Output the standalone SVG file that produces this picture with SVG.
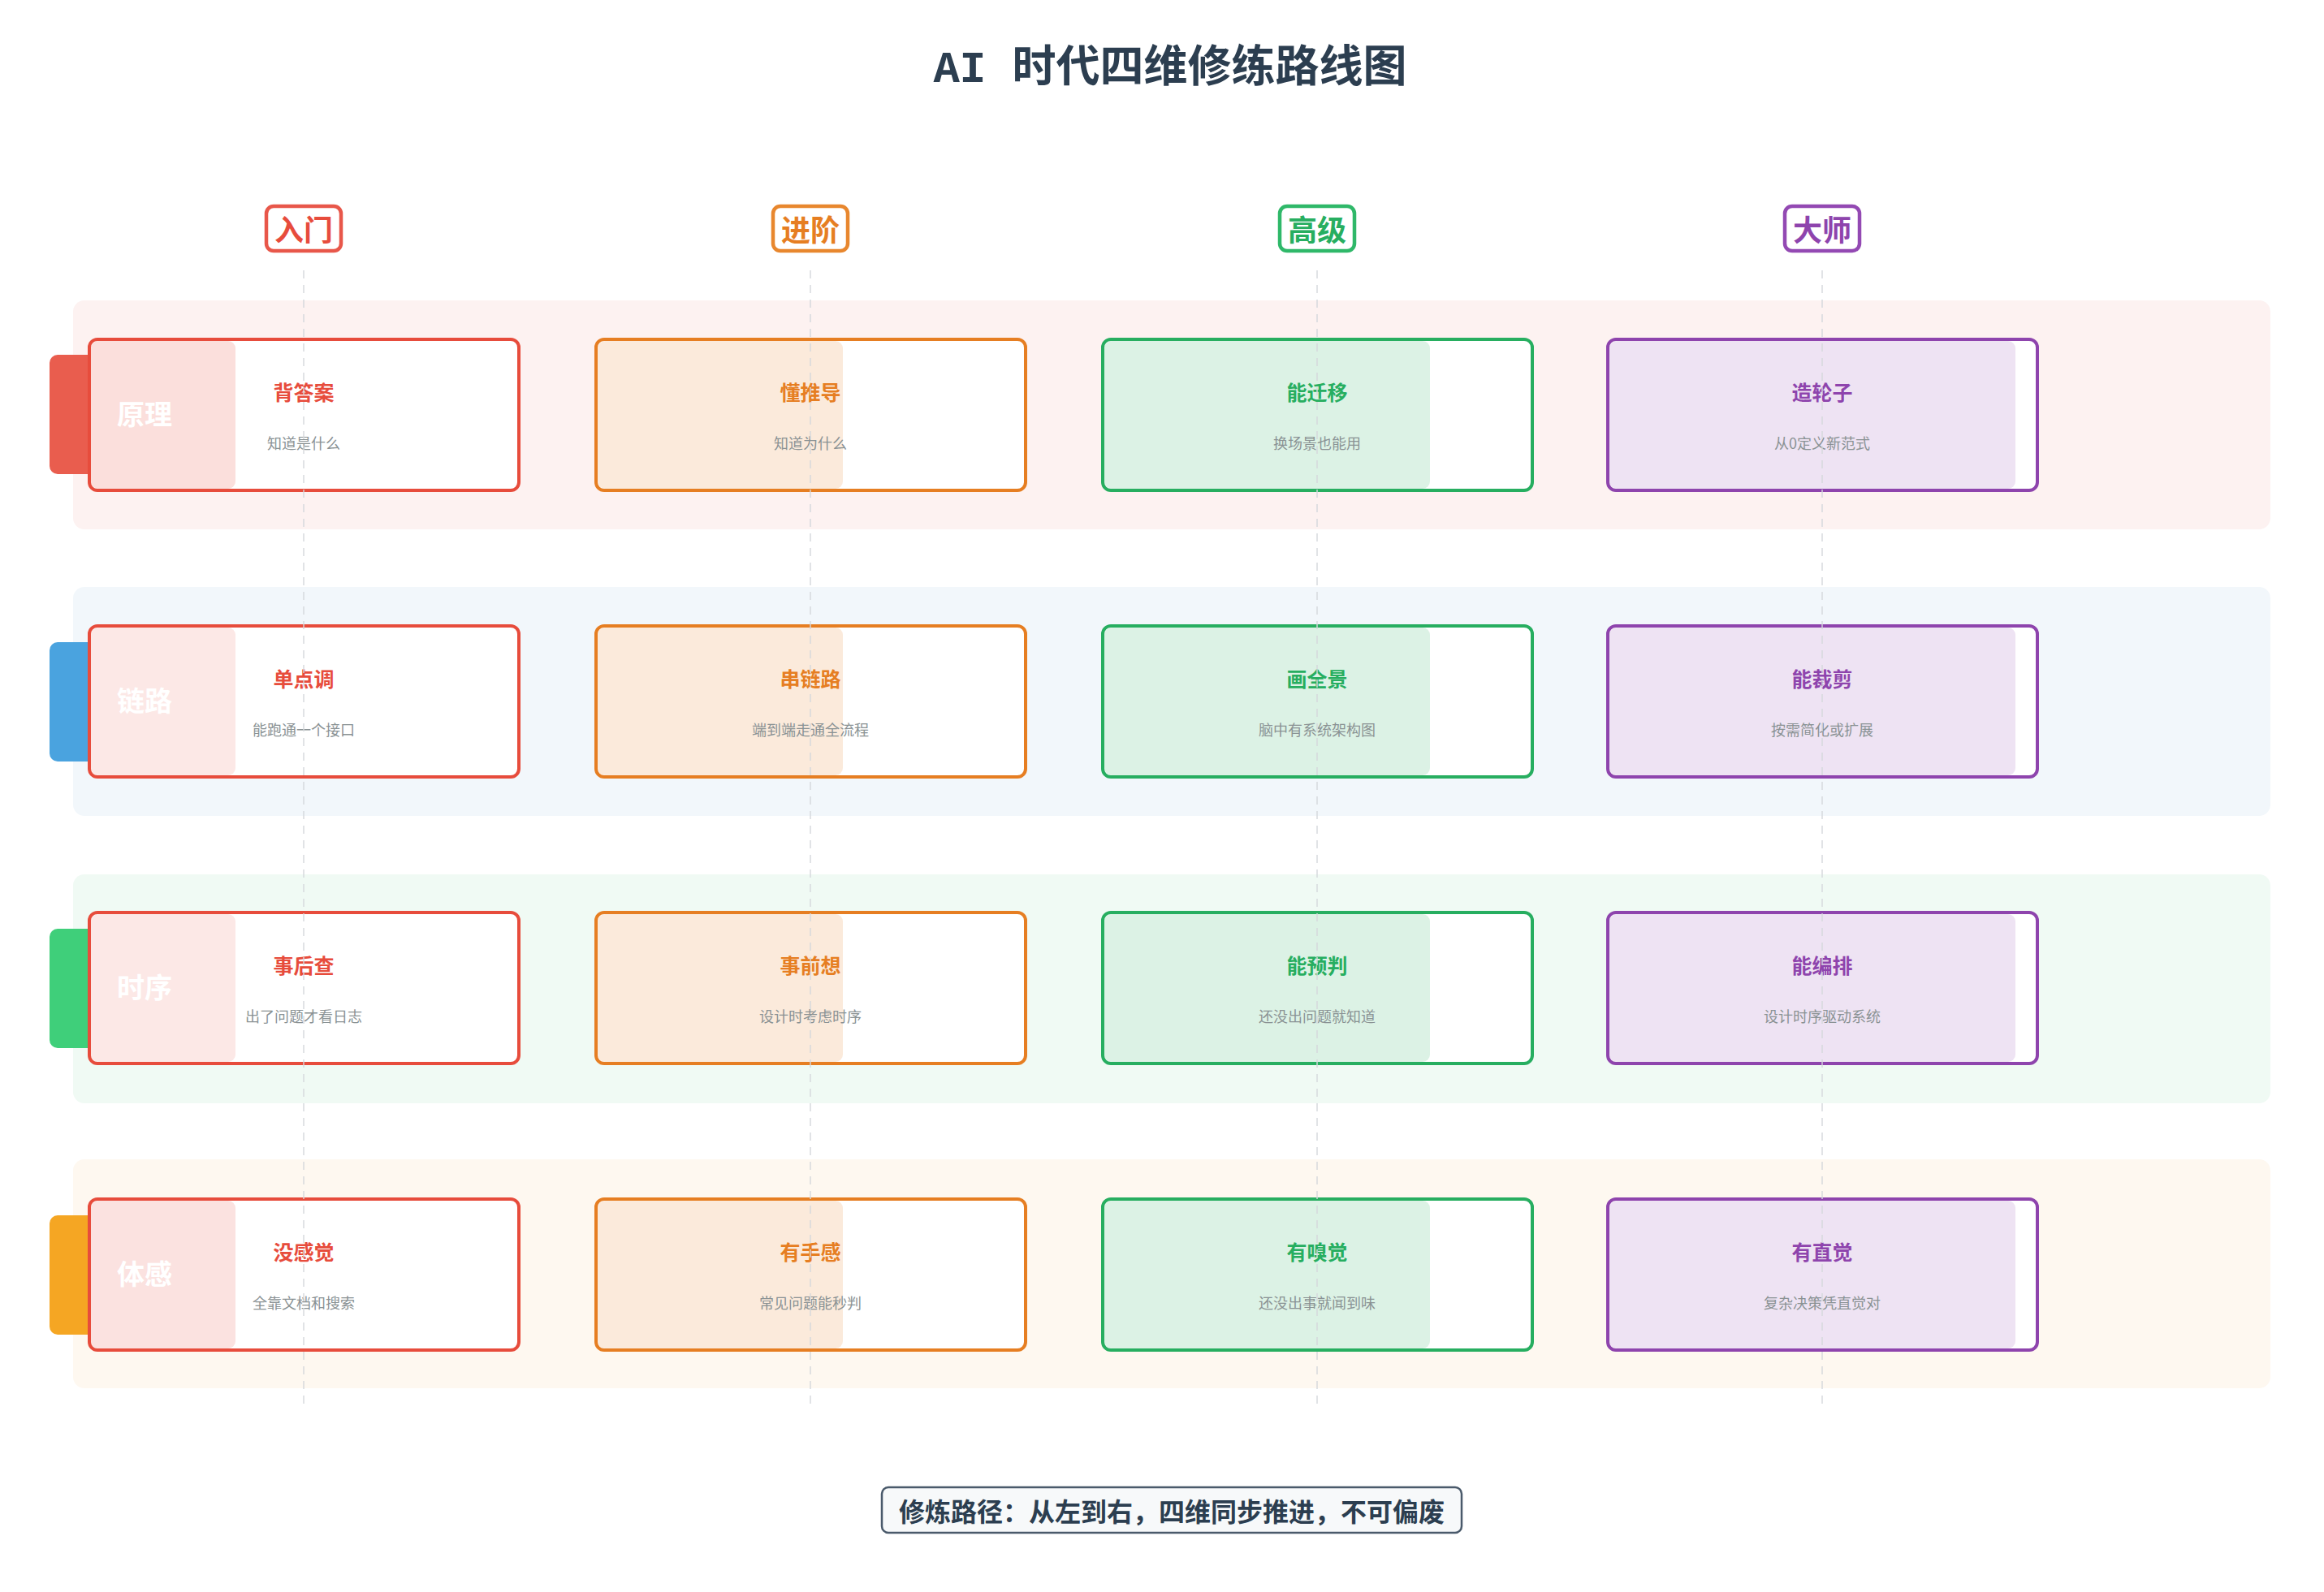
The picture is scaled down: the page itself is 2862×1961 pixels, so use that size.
<svg xmlns="http://www.w3.org/2000/svg" width="2862" height="1961" viewBox="0 0 2862 1961">
<style>
text{font-family:"Noto Sans CJK SC","Noto Sans",sans-serif;text-anchor:middle;dominant-baseline:central}
.title{font-family:"Liberation Mono","Noto Sans CJK SC",monospace;font-size:54px;font-weight:700;fill:#2c3e50}
.badge{fill:#fff;stroke-width:4.5}
.bt{font-size:36px;font-weight:700}
.band{}
.card{fill:#fff;stroke-width:4}
.ct{font-size:25px;font-weight:700}
.cs{font-size:18px;fill:#8a9294}
.rl{font-size:34px;font-weight:700;fill:#fff}
.guide{stroke:#d5d8dc;stroke-width:2;stroke-dasharray:10 8;opacity:.7}
</style>
<rect width="2862" height="1961" fill="#fff"/>
<text class="title" x="1441" y="86">AI 时代四维修练路线图</text>

<g id="bands">
<rect x="90" y="370" width="2706" height="282" rx="14" fill="#fdf2f1"/>
<rect x="90" y="723" width="2706" height="282" rx="14" fill="#f2f7fb"/>
<rect x="90" y="1077" width="2706" height="282" rx="14" fill="#f0faf4"/>
<rect x="90" y="1428" width="2706" height="282" rx="14" fill="#fef8f0"/>
</g>

<g id="badges">
<g id="b1"><rect class="badge" x="328" y="254" width="92" height="55" rx="9" stroke="#e8574a"/><text class="bt" x="374" y="281" fill="#e74c3c">入门</text></g>
<g id="b2"><rect class="badge" x="952" y="254" width="92" height="55" rx="9" stroke="#e8872e"/><text class="bt" x="998" y="281" fill="#e67e22">进阶</text></g>
<g id="b3"><rect class="badge" x="1576" y="254" width="92" height="55" rx="9" stroke="#2fb869"/><text class="bt" x="1622" y="281" fill="#27ae60">高级</text></g>
<g id="b4"><rect class="badge" x="2198" y="254" width="92" height="55" rx="9" stroke="#9349b3"/><text class="bt" x="2244" y="281" fill="#8e44ad">大师</text></g>
</g>

<g id="rows">
<g id="row1">
<rect x="61" y="437" width="70" height="147" rx="10" fill="#e95d4e"/>
<g id="c11"><rect class="card" x="110" y="418" width="529" height="186" rx="10" stroke="#e74c3c"/><rect x="112" y="420" width="178" height="182" rx="9" fill="#e74c3c" opacity=".18"/><text class="ct" x="374" y="482" fill="#e74c3c">背答案</text><text class="cs" x="374" y="545">知道是什么</text></g>
<g id="c12"><rect class="card" x="734" y="418" width="529" height="186" rx="10" stroke="#e67e22"/><rect x="736" y="420" width="302" height="182" rx="9" fill="#e67e22" opacity=".16"/><text class="ct" x="998" y="482" fill="#e67e22">懂推导</text><text class="cs" x="998" y="545">知道为什么</text></g>
<g id="c13"><rect class="card" x="1358" y="418" width="529" height="186" rx="10" stroke="#27ae60"/><rect x="1360" y="420" width="401" height="182" rx="9" fill="#27ae60" opacity=".16"/><text class="ct" x="1622" y="482" fill="#27ae60">能迁移</text><text class="cs" x="1622" y="545">换场景也能用</text></g>
<g id="c14"><rect class="card" x="1980" y="418" width="529" height="186" rx="10" stroke="#8e44ad"/><rect x="1982" y="420" width="500" height="182" rx="9" fill="#8e44ad" opacity=".15"/><text class="ct" x="2244" y="482" fill="#8e44ad">造轮子</text><text class="cs" x="2244" y="545">从0定义新范式</text></g>
<text class="rl" x="178" y="508">原理</text>
</g>

<g id="row2">
<rect x="61" y="791" width="70" height="147" rx="10" fill="#4aa3df"/>
<g id="c21"><rect class="card" x="110" y="771" width="529" height="186" rx="10" stroke="#e74c3c"/><rect x="112" y="773" width="178" height="182" rx="9" fill="#e74c3c" opacity=".13"/><text class="ct" x="374" y="835" fill="#e74c3c">单点调</text><text class="cs" x="374" y="898">能跑通一个接口</text></g>
<g id="c22"><rect class="card" x="734" y="771" width="529" height="186" rx="10" stroke="#e67e22"/><rect x="736" y="773" width="302" height="182" rx="9" fill="#e67e22" opacity=".16"/><text class="ct" x="998" y="835" fill="#e67e22">串链路</text><text class="cs" x="998" y="898">端到端走通全流程</text></g>
<g id="c23"><rect class="card" x="1358" y="771" width="529" height="186" rx="10" stroke="#27ae60"/><rect x="1360" y="773" width="401" height="182" rx="9" fill="#27ae60" opacity=".16"/><text class="ct" x="1622" y="835" fill="#27ae60">画全景</text><text class="cs" x="1622" y="898">脑中有系统架构图</text></g>
<g id="c24"><rect class="card" x="1980" y="771" width="529" height="186" rx="10" stroke="#8e44ad"/><rect x="1982" y="773" width="500" height="182" rx="9" fill="#8e44ad" opacity=".15"/><text class="ct" x="2244" y="835" fill="#8e44ad">能裁剪</text><text class="cs" x="2244" y="898">按需简化或扩展</text></g>
<text class="rl" x="178" y="861">链路</text>
</g>

<g id="row3">
<rect x="61" y="1144" width="70" height="147" rx="10" fill="#3fcf7a"/>
<g id="c31"><rect class="card" x="110" y="1124" width="529" height="186" rx="10" stroke="#e74c3c"/><rect x="112" y="1126" width="178" height="182" rx="9" fill="#e74c3c" opacity=".13"/><text class="ct" x="374" y="1188" fill="#e74c3c">事后查</text><text class="cs" x="374" y="1251">出了问题才看日志</text></g>
<g id="c32"><rect class="card" x="734" y="1124" width="529" height="186" rx="10" stroke="#e67e22"/><rect x="736" y="1126" width="302" height="182" rx="9" fill="#e67e22" opacity=".16"/><text class="ct" x="998" y="1188" fill="#e67e22">事前想</text><text class="cs" x="998" y="1251">设计时考虑时序</text></g>
<g id="c33"><rect class="card" x="1358" y="1124" width="529" height="186" rx="10" stroke="#27ae60"/><rect x="1360" y="1126" width="401" height="182" rx="9" fill="#27ae60" opacity=".16"/><text class="ct" x="1622" y="1188" fill="#27ae60">能预判</text><text class="cs" x="1622" y="1251">还没出问题就知道</text></g>
<g id="c34"><rect class="card" x="1980" y="1124" width="529" height="186" rx="10" stroke="#8e44ad"/><rect x="1982" y="1126" width="500" height="182" rx="9" fill="#8e44ad" opacity=".15"/><text class="ct" x="2244" y="1188" fill="#8e44ad">能编排</text><text class="cs" x="2244" y="1251">设计时序驱动系统</text></g>
<text class="rl" x="178" y="1214">时序</text>
</g>

<g id="row4">
<rect x="61" y="1497" width="70" height="147" rx="10" fill="#f5a623"/>
<g id="c41"><rect class="card" x="110" y="1477" width="529" height="186" rx="10" stroke="#e74c3c"/><rect x="112" y="1479" width="178" height="182" rx="9" fill="#e74c3c" opacity=".16"/><text class="ct" x="374" y="1541" fill="#e74c3c">没感觉</text><text class="cs" x="374" y="1604">全靠文档和搜索</text></g>
<g id="c42"><rect class="card" x="734" y="1477" width="529" height="186" rx="10" stroke="#e67e22"/><rect x="736" y="1479" width="302" height="182" rx="9" fill="#e67e22" opacity=".16"/><text class="ct" x="998" y="1541" fill="#e67e22">有手感</text><text class="cs" x="998" y="1604">常见问题能秒判</text></g>
<g id="c43"><rect class="card" x="1358" y="1477" width="529" height="186" rx="10" stroke="#27ae60"/><rect x="1360" y="1479" width="401" height="182" rx="9" fill="#27ae60" opacity=".16"/><text class="ct" x="1622" y="1541" fill="#27ae60">有嗅觉</text><text class="cs" x="1622" y="1604">还没出事就闻到味</text></g>
<g id="c44"><rect class="card" x="1980" y="1477" width="529" height="186" rx="10" stroke="#8e44ad"/><rect x="1982" y="1479" width="500" height="182" rx="9" fill="#8e44ad" opacity=".15"/><text class="ct" x="2244" y="1541" fill="#8e44ad">有直觉</text><text class="cs" x="2244" y="1604">复杂决策凭直觉对</text></g>
<text class="rl" x="178" y="1567">体感</text>
</g>
</g>

<g id="connectors">
<line class="guide" x1="374" y1="333" x2="374" y2="1730"/>
<line class="guide" x1="998" y1="333" x2="998" y2="1730"/>
<line class="guide" x1="1622" y1="333" x2="1622" y2="1730"/>
<line class="guide" x1="2244" y1="333" x2="2244" y2="1730"/>
</g>

<g id="footer">
<rect x="1086" y="1832" width="714" height="56" rx="8" fill="#f7f9fa" stroke="#4a5a6b" stroke-width="2.5"/>
<text x="1443" y="1860" font-size="32" font-weight="700" fill="#2c3e50">修炼路径：从左到右，四维同步推进，不可偏废</text>
</g>
</svg>
